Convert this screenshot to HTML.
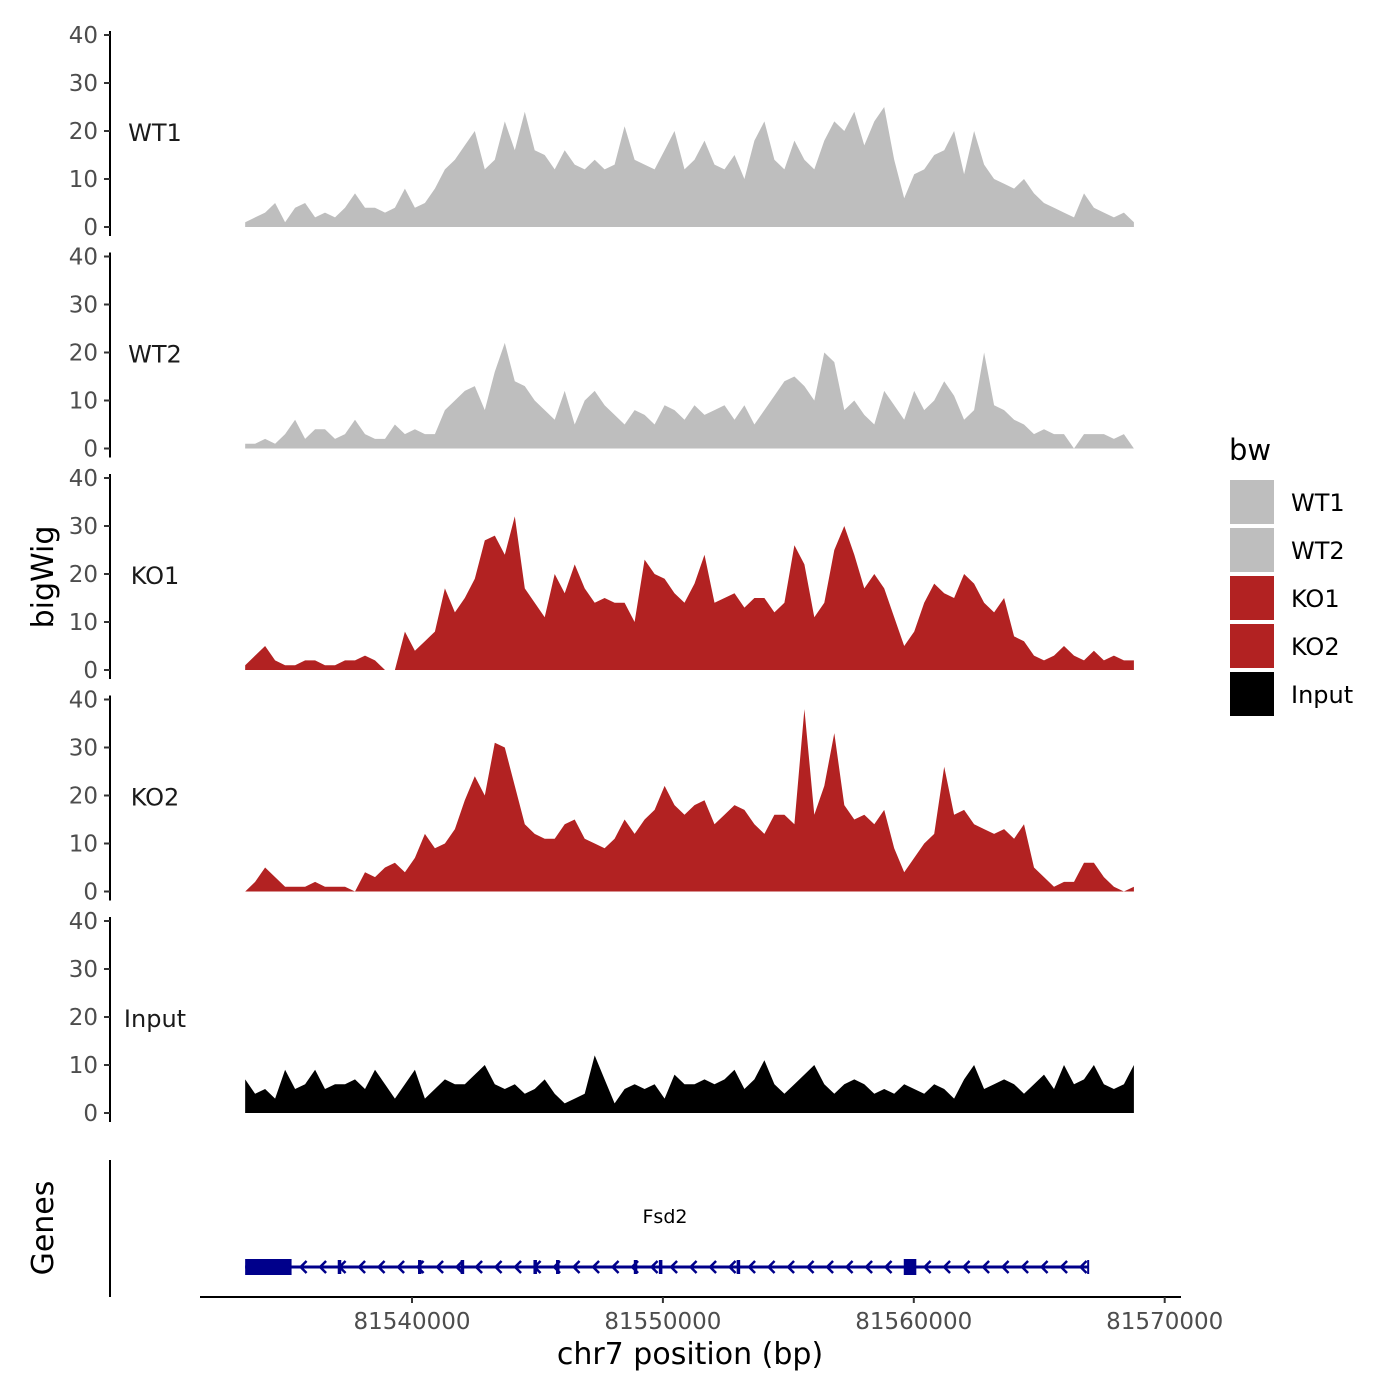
<!DOCTYPE html>
<html><head><meta charset="utf-8"><style>
body{margin:0;background:#fff;}
svg{display:block;font-family:"DejaVu Sans","Liberation Sans",sans-serif;}
</style></head><body>
<svg id="chart" width="1400" height="1400" viewBox="0 0 1400 1400" xmlns="http://www.w3.org/2000/svg">
<text transform="translate(53,577) rotate(-90)" text-anchor="middle" font-size="30" fill="#000">bigWig</text>
<text transform="translate(53,1228) rotate(-90)" text-anchor="middle" font-size="30" fill="#000">Genes</text>
<line x1="110" y1="1160" x2="110" y2="1297" stroke="#000" stroke-width="2"/>
<line x1="200" y1="1297" x2="1181" y2="1297" stroke="#000" stroke-width="2"/>
<text x="690" y="1364" text-anchor="middle" font-size="30" fill="#000">chr7 position (bp)</text>
<text x="665" y="1223" text-anchor="middle" font-size="19" fill="#000">Fsd2</text>
<text x="1229" y="460" font-size="29" fill="#000">bw</text>
</svg>
<script>
const binStart = 81533350;
const binSize = 398;
const wt1 = [1,2,3,5,1,4,5,2,3,2,4,7,4,4,3,4,8,4,5,8,12,14,17,20,12,14,22,16,24,16,15,12,16,13,12,14,12,13,21,14,13,12,16,20,12,14,18,13,12,15,10,18,22,14,12,18,14,12,18,22,20,24,17,22,25,14,6,11,12,15,16,20,11,20,13,10,9,8,10,7,5,4,3,2,7,4,3,2,3,1];
const wt2 = [1,1,2,1,3,6,2,4,4,2,3,6,3,2,2,5,3,4,3,3,8,10,12,13,8,16,22,14,13,10,8,6,12,5,10,12,9,7,5,8,7,5,9,8,6,9,7,8,9,6,9,5,8,11,14,15,13,10,20,18,8,10,7,5,12,9,6,12,8,10,14,11,6,8,20,9,8,6,5,3,4,3,3,0,3,3,3,2,3,0];
const ko1 = [1,3,5,2,1,1,2,2,1,1,2,2,3,2,0,0,8,4,6,8,17,12,15,19,27,28,24,32,17,14,11,20,16,22,17,14,15,14,14,10,23,20,19,16,14,18,24,14,15,16,13,15,15,12,14,26,22,11,14,25,30,24,17,20,17,11,5,8,14,18,16,15,20,18,14,12,15,7,6,3,2,3,5,3,2,4,2,3,2,2];
const ko2 = [0,2,5,3,1,1,1,2,1,1,1,0,4,3,5,6,4,7,12,9,10,13,19,24,20,31,30,22,14,12,11,11,14,15,11,10,9,11,15,12,15,17,22,18,16,18,19,14,16,18,17,14,12,16,16,14,38,16,22,33,18,15,16,14,17,9,4,7,10,12,26,16,17,14,13,12,13,11,14,5,3,1,2,2,6,6,3,1,0,1];
const inputSig = [7,4,5,3,9,5,6,9,5,6,6,7,5,9,6,3,6,9,3,5,7,6,6,8,10,6,5,6,4,5,7,4,2,3,4,12,7,2,5,6,5,6,3,8,6,6,7,6,7,9,5,7,11,6,4,6,8,10,6,4,6,7,6,4,5,4,6,5,4,6,5,3,7,10,5,6,7,6,4,6,8,5,10,6,7,10,6,5,6,10];
const trackNames = ["WT1","WT2","KO1","KO2","Input"];
const trackColors = ["#bebebe","#bebebe","#b22222","#b22222","#000000"];
const yTicks = [0,10,20,30,40];
const xTicks = [81540000,81550000,81560000,81570000];
const exonsThin = [81537100,81540300,81542000,81544900,81545800,81548900,81549900,81553000];
const geneStart = 81533350, geneEnd = 81566950;
const utrBox = [81533350,81535200];
const exonBox = [81559600,81560100];

const NS = "http://www.w3.org/2000/svg";
const svg = document.getElementById('chart');
const xs = bp => 412 + (bp - 81540000) * 0.02509;
function mk(tag, attrs, parent){const e=document.createElementNS(NS,tag);for(const k in attrs)e.setAttribute(k,attrs[k]);(parent||svg).appendChild(e);return e;}

const series = [wt1, wt2, ko1, ko2, inputSig];
series.forEach((vals, t) => {
  const y0 = 227 + t*221.5;
  const ys = v => y0 - v*4.8;
  const g = mk('g', {});
  
  
  const ax = mk('line', {x1:110,y1:y0-196,x2:110,y2:y0+9,stroke:'#000','stroke-width':2}, g);
  
  
  yTicks.forEach(v => {
    mk('line', {x1:104,y1:ys(v),x2:110,y2:ys(v),stroke:'#333','stroke-width':2}, g);
    const tl = mk('text', {x:98,y:ys(v)+8,'text-anchor':'end','font-size':23,fill:'#4d4d4d'}, g);
    
    
    tl.textContent = v;
  });
  const lab = mk('text', {x:155,y:ys(20)+10,'text-anchor':'middle','font-size':24,fill:'#1a1a1a'}, g);
  
  
  lab.textContent = trackNames[t];
  let d = 'M' + xs(binStart) + ',' + ys(0);
  vals.forEach((v,i) => { d += ' L' + xs(binStart + i*binSize).toFixed(1) + ',' + ys(v).toFixed(1); });
  d += ' L' + xs(binStart + (vals.length-1)*binSize).toFixed(1) + ',' + ys(0) + ' Z';
  const p = mk('path', {d:d, fill:trackColors[t]}, g);
  
  
  const ly = 480 + t*48;
  const key = mk('rect', {x:1230,y:ly,width:44,height:44,fill:trackColors[t]});
  
  
  const lt = mk('text', {x:1291,y:ly+31,'font-size':24,fill:'#000'});
  
  
  lt.textContent = trackNames[t];
});

xTicks.forEach(v => {
  mk('line', {x1:xs(v),y1:1297,x2:xs(v),y2:1303,stroke:'#333','stroke-width':2});
  const tl = mk('text', {x:xs(v),y:1329,'text-anchor':'middle','font-size':23,fill:'#4d4d4d'});
  
  
  tl.textContent = v;
});

const gy = 1267, col = '#00008b';
const gl = mk('line', {x1:xs(geneStart),y1:gy,x2:xs(geneEnd),y2:gy,stroke:col,'stroke-width':3});


for (let x = xs(utrBox[1]) + 10; x < xs(geneEnd); x += 19.5) {
  mk('path', {d:'M'+(x+5)+','+(gy-6)+' L'+(x-1)+','+gy+' L'+(x+5)+','+(gy+6), stroke:col,'stroke-width':2.5,fill:'none'});
}
exonsThin.forEach(b => { mk('rect', {x:xs(b)-1.5,y:gy-7,width:3.5,height:14,fill:col}); });
const ub = mk('rect', {x:xs(utrBox[0]),y:gy-8,width:xs(utrBox[1])-xs(utrBox[0]),height:16,fill:col});


const eb = mk('rect', {x:xs(exonBox[0]),y:gy-8,width:xs(exonBox[1])-xs(exonBox[0]),height:16,fill:col});


mk('line', {x1:xs(geneEnd),y1:gy-7,x2:xs(geneEnd),y2:gy+7,stroke:col,'stroke-width':2});
</script>
</body></html>
